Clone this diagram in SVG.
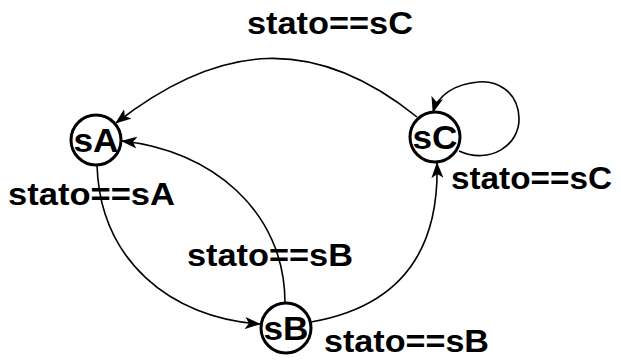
<svg xmlns="http://www.w3.org/2000/svg" width="621" height="360" viewBox="0 0 621 360">
<style>
.node{fill:#fff;stroke:#000;stroke-width:3}
.nl{font-family:"Liberation Sans",Arial,sans-serif;font-weight:bold;font-size:33px;text-anchor:middle;fill:#000}
.el{font-family:"Liberation Sans",Arial,sans-serif;font-weight:bold;font-size:32px;fill:#000}
.edge{fill:none;stroke:#000;stroke-width:1.6;marker-end:url(#ah)}
</style>
<defs>
<marker id="ah" markerUnits="userSpaceOnUse" markerWidth="16" markerHeight="12" refX="15" refY="6" orient="auto" viewBox="0 0 16 12">
<path d="M0,0 L16,6 L0,12 L4,6 z" fill="#000"/>
</marker>
</defs>
<rect width="621" height="360" fill="#fff"/>
<g id="connectors">
<path class="edge" d="M417,117 C315,35 221,41 116,123"/>
<path class="edge" d="M97,165 C100,260 170,318 260,324"/>
<path class="edge" d="M285,303 C285,210 210,150 122,141"/>
<path class="edge" d="M311,322 C380,310 440,270 437,163"/>
<path class="edge" d="M459,151 C490,165 520,145 519,118 C518,90 495,80 478,82 C455,84 438,95 433,112"/>
</g>
<g id="labels">
<text class="el" x="247" y="34" textLength="166" lengthAdjust="spacingAndGlyphs">stato==sC</text>
<text class="el" x="8" y="205" textLength="167" lengthAdjust="spacingAndGlyphs">stato==sA</text>
<text class="el" x="187" y="266" textLength="166" lengthAdjust="spacingAndGlyphs">stato==sB</text>
<text class="el" x="451" y="189" textLength="161" lengthAdjust="spacingAndGlyphs">stato==sC</text>
<text class="el" x="324" y="352" textLength="165" lengthAdjust="spacingAndGlyphs">stato==sB</text>
</g>
<g id="sA">
<circle class="node" cx="96" cy="140" r="25"/>
<text class="nl" x="96" y="152" textLength="45" lengthAdjust="spacingAndGlyphs">sA</text>
</g>
<g id="sB">
<circle class="node" cx="286" cy="328" r="25"/>
<text class="nl" x="286" y="340" textLength="45" lengthAdjust="spacingAndGlyphs">sB</text>
</g>
<g id="sC">
<circle class="node" cx="435" cy="137" r="25"/>
<text class="nl" x="435" y="149" textLength="45" lengthAdjust="spacingAndGlyphs">sC</text>
</g>
</svg>
